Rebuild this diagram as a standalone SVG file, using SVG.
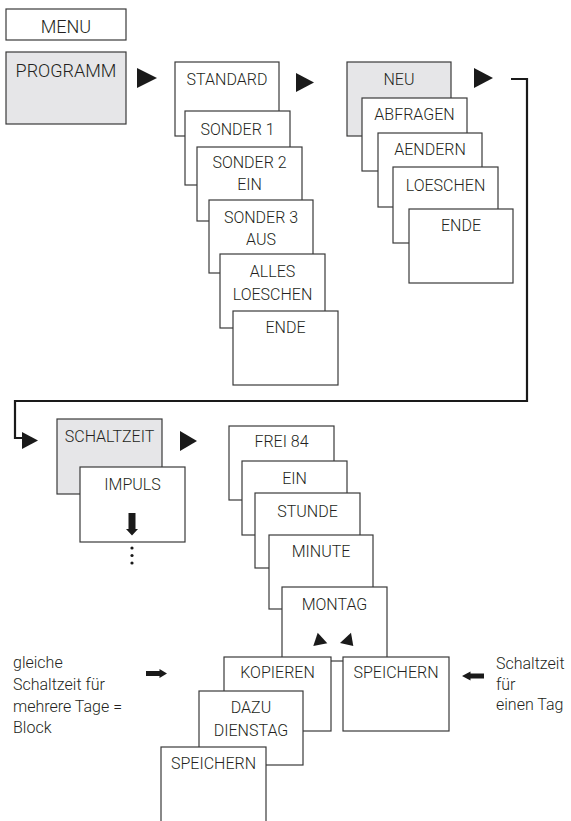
<svg xmlns="http://www.w3.org/2000/svg" width="571" height="821" viewBox="0 0 571 821">
<style>
.b{fill:#fff;stroke:#3a3a3a;stroke-width:1.2}
.g{fill:#e6e6e8;stroke:#3a3a3a;stroke-width:1.2}
text{font-family:Roboto,"Liberation Sans",Arial,sans-serif;font-weight:300;font-size:16px;fill:#231f20;text-anchor:middle}
.big{font-size:18px}
.note{font-size:16px;text-anchor:start}
.tri{fill:#1a1a1a}
.conn{fill:none;stroke:#1a1a1a;stroke-width:2.2}
</style>
<rect width="571" height="821" fill="#fff"/>

<g id="menu"><rect class="b" x="6" y="9" width="120" height="31"/><text class="big" x="66" y="33">MENU</text></g>
<g id="programm"><rect class="g" x="6" y="52" width="120" height="72"/><text class="big" x="66" y="77">PROGRAMM</text></g>

<g id="standard"><rect class="b" x="175" y="62" width="104" height="74"/><text x="227" y="85">STANDARD</text></g>
<g id="sonder1"><rect class="b" x="185" y="111" width="105" height="74"/><text x="237.5" y="135">SONDER 1</text></g>
<g id="sonder2"><rect class="b" x="197" y="147" width="105" height="74"/><text x="249.5" y="168">SONDER 2</text><text x="249.5" y="190">EIN</text></g>
<g id="sonder3"><rect class="b" x="209" y="200" width="104" height="73"/><text x="261" y="223">SONDER 3</text><text x="261" y="245">AUS</text></g>
<g id="alles"><rect class="b" x="220" y="254" width="105" height="74"/><text x="272.5" y="277">ALLES</text><text x="272.5" y="300">LOESCHEN</text></g>
<g id="ende1"><rect class="b" x="233" y="311" width="105" height="74"/><text x="285.5" y="333">ENDE</text></g>

<g id="neu"><rect class="g" x="347" y="62" width="104" height="74"/><text x="399" y="85">NEU</text></g>
<g id="abfragen"><rect class="b" x="362" y="98" width="105" height="73"/><text x="414.5" y="120">ABFRAGEN</text></g>
<g id="aendern"><rect class="b" x="378" y="133" width="104" height="74"/><text x="430" y="155">AENDERN</text></g>
<g id="loeschen"><rect class="b" x="393" y="167" width="105" height="76"/><text x="445.5" y="191">LOESCHEN</text></g>
<g id="ende2"><rect class="b" x="409" y="209" width="104" height="74"/><text x="461" y="231">ENDE</text></g>

<g id="schaltzeit"><rect class="g" x="57" y="419" width="105" height="75"/><text x="109.5" y="442">SCHALTZEIT</text></g>
<g id="impuls"><rect class="b" x="80" y="467" width="105" height="75"/><text x="132.5" y="490">IMPULS</text>
<polygon class="tri" points="128.5,513 135.5,513 135.5,529 138,529 132,535.5 126,529 128.5,529"/>
<circle cx="132" cy="548" r="1.6" fill="#1a1a1a"/><circle cx="132" cy="555.5" r="1.6" fill="#1a1a1a"/><circle cx="132" cy="563" r="1.6" fill="#1a1a1a"/></g>

<g id="frei84"><rect class="b" x="229" y="426" width="105" height="74"/><text x="281.5" y="447">FREI 84</text></g>
<g id="ein"><rect class="b" x="242" y="461" width="105" height="74"/><text x="294.5" y="484">EIN</text></g>
<g id="stunde"><rect class="b" x="255" y="493" width="105" height="75"/><text x="307.5" y="517">STUNDE</text></g>
<g id="minute"><rect class="b" x="269" y="535" width="104" height="74"/><text x="321" y="557">MINUTE</text></g>
<g id="montag"><rect class="b" x="282" y="587" width="105" height="74"/><text x="334.5" y="610">MONTAG</text>
<polygon class="tri" points="317.7,632.7 313.3,646 327.3,643.3"/>
<polygon class="tri" points="351,632.7 340,643 353.3,646"/></g>
<g id="kopieren"><rect class="b" x="224" y="657" width="107" height="74"/><text x="277.5" y="678">KOPIEREN</text></g>
<g id="speichern1"><rect class="b" x="343" y="657" width="106" height="74"/><text x="396" y="678">SPEICHERN</text></g>
<g id="dazu"><rect class="b" x="199" y="691" width="104" height="74"/><text x="251" y="713">DAZU</text><text x="251" y="736">DIENSTAG</text></g>
<g id="speichern2"><rect class="b" x="161" y="747" width="105" height="90"/><text x="213.5" y="769">SPEICHERN</text></g>

<g id="note-left"><text class="note" x="13" y="668">gleiche</text><text class="note" x="13" y="690">Schaltzeit für</text><text class="note" x="13" y="712">mehrere Tage =</text><text class="note" x="13" y="733">Block</text></g>
<g id="note-right"><text class="note" x="496" y="669">Schaltzeit</text><text class="note" x="496" y="690">für</text><text class="note" x="496" y="710">einen Tag</text></g>

<g id="connectors">
<polygon class="tri" points="137,68 157,78 137,88"/>
<polygon class="tri" points="296,73 314,82.5 296,92"/>
<polygon class="tri" points="474,68 493,78 474,88"/>
<polyline class="conn" points="511,79 527,79 527,401 15,401 15,438 24,438"/>
<polygon class="tri" points="22,432 38,440.5 22,449"/>
<polygon class="tri" points="180,431 197,441 180,451"/>
<polygon class="tri" points="146,671 159.5,671 159.5,669 167,673.5 159.5,678 159.5,676 146,676"/>
<polygon class="tri" points="484,673.5 470.5,673.5 470.5,671.5 462,676 470.5,680.5 470.5,678.5 484,678.5"/>
</g>
</svg>
